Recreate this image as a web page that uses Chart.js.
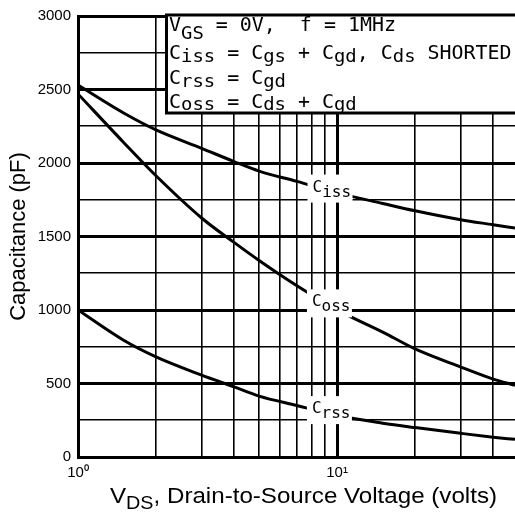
<!DOCTYPE html>
<html>
<head>
<meta charset="utf-8">
<script src="https://cdn.jsdelivr.net/npm/chart.js@4/dist/chart.umd.min.js"></script>
<style>
  html, body { margin: 0; padding: 0; background: #fff; }
</style>
</head>
<body>
<canvas id="capChart" width="515" height="515"></canvas>
<script>
// values
const vds  = [1, 1.5, 2, 3, 4, 5, 7, 10, 15, 20, 30, 40, 48.6];
const ciss = [2530, 2340, 2225, 2100, 2010, 1945, 1875, 1797, 1725, 1675, 1614, 1580, 1557];
const coss = [2470, 2140, 1913, 1626, 1460, 1337, 1165, 1001, 850, 735, 612, 530, 488];
const crss = [1000, 794, 681, 557, 477, 414, 350, 282, 230, 200, 161, 135, 120];

const xTicks = [1, 2, 3, 4, 5, 6, 7, 8, 9, 10, 20, 30, 40];
const yTicks = [0, 250, 500, 750, 1000, 1250, 1500, 1750, 2000, 2250, 2500, 2750, 3000];
const yLabels = ['0', '500', '1000', '1500', '2000', '2500', '3000'];

// where the curve names sit (data coords of label centre)
const curveLabels = [
  { sub: 'iss', x: 9.35, y: 1826 },
  { sub: 'oss', x: 9.3, y: 1045 },
  { sub: 'rss', x: 9.3, y: 319 }
];

const MONO = '"DejaVu Sans Mono", monospace';
const SANS = '"Liberation Sans", Arial, sans-serif';

function toPoints(ys) {
  return vds.map((v, i) => ({ x: v, y: ys[i] }));
}

// draws a run of [text, isSub] pieces, returns end x
function drawRich(ctx, x, y, parts, size, subSize, drop, family) {
  for (const [t, sub] of parts) {
    ctx.font = (sub ? subSize : size) + 'px ' + family;
    ctx.fillText(t, x, y + (sub ? drop : 0));
    x += ctx.measureText(t).width;
  }
  return x;
}

// legend line, stretched a little like the typewriter face in the original
function drawNote(ctx, y, parts, drop) {
  ctx.save();
  ctx.translate(169, 0);
  ctx.scale(1.05, 1);
  drawRich(ctx, 0, y, parts, 19, 18, drop, MONO);
  ctx.restore();
}

const notes = {
  id: 'notes',
  afterDatasetsDraw(chart) {
    const ctx = chart.ctx;
    const xs = chart.scales.x, ys = chart.scales.y;
    ctx.save();
    ctx.textBaseline = 'alphabetic';
    ctx.textAlign = 'left';

    // curve names on white patches
    curveLabels.forEach(l => {
      const cx = xs.getPixelForValue(l.x);
      const cy = ys.getPixelForValue(l.y);
      ctx.fillStyle = '#fff';
      ctx.fillRect(cx - 22, cy - 14, 45, 28);
      ctx.fillStyle = '#000';
      drawRich(ctx, cx - 17, cy + 3, [['C'], [l.sub, 1]], 16, 16, 5, MONO);
    });

    // conditions box
    ctx.fillStyle = '#fff';
    ctx.fillRect(166, 15, 360, 98);
    ctx.strokeStyle = '#000';
    ctx.lineWidth = 3;
    ctx.strokeRect(166.5, 15, 360, 98);
    ctx.fillStyle = '#000';
    drawNote(ctx, 31, [['V'], ['GS', 1], [' = 0V,  f = 1MHz']], 8);
    drawNote(ctx, 58.5, [['C'], ['iss', 1], [' = C'], ['gs', 1], [' + C'], ['gd', 1], [', C'], ['ds', 1], [' SHORTED']], 3);
    drawNote(ctx, 83.5, [['C'], ['rss', 1], [' = C'], ['gd', 1]], 3);
    drawNote(ctx, 108, [['C'], ['oss', 1], [' = C'], ['ds', 1], [' + C'], ['gd', 1]], 2);

    // x axis title with subscript
    const parts = [['V'], ['DS', 1], [', Drain-to-Source Voltage (volts)']];
    let w = 0;
    parts.forEach(([t, sub]) => {
      ctx.font = (sub ? 18 : 22) + 'px ' + SANS;
      w += ctx.measureText(t).width;
    });
    const sx = 387 / w;
    ctx.translate(110, 0);
    ctx.scale(sx, 1);
    drawRich(ctx, 0, 503, parts, 22, 18, 6, SANS);
    ctx.restore();
  }
};

const ctx = document.getElementById('capChart').getContext('2d');
const capChart = new Chart(ctx, {
  type: 'line',
  data: {
    datasets: [
      { label: 'Ciss', data: toPoints(ciss) },
      { label: 'Coss', data: toPoints(coss) },
      { label: 'Crss', data: toPoints(crss) }
    ]
  },
  options: {
    responsive: false,
    animation: false,
    devicePixelRatio: 1,
    layout: { padding: { top: 15, right: 0, left: 0, bottom: 0 } },
    elements: {
      line: { borderColor: '#000', borderWidth: 3, tension: 0.4, cubicInterpolationMode: 'monotone' },
      point: { radius: 0 }
    },
    plugins: { legend: { display: false }, tooltip: { enabled: false } },
    scales: {
      x: {
        type: 'logarithmic',
        min: 1,
        max: 48.6,
        afterFit: s => { s.height = 58; },
        afterBuildTicks: s => { s.ticks = xTicks.map(v => ({ value: v })); },
        ticks: {
          autoSkip: false,
          maxRotation: 0,
          padding: 7,
          color: '#000',
          font: { family: SANS, size: 15 },
          callback: v => (v === 1 ? '10⁰' : v === 10 ? '10¹' : '')
        },
        grid: {
          color: '#000',
          drawTicks: false,
          lineWidth: c => (c.tick && c.tick.value === 10 ? 3 : 1.6)
        },
        border: { color: '#000', width: 3 }
      },
      y: {
        min: 0,
        max: 3000,
        afterFit: s => { s.width = 78; },
        afterBuildTicks: s => { s.ticks = yTicks.map(v => ({ value: v })); },
        ticks: {
          padding: 7,
          color: '#000',
          font: { family: SANS, size: 15 },
          callback: v => (yLabels.includes(String(v)) ? String(v) : '')
        },
        grid: {
          color: '#000',
          drawTicks: false,
          lineWidth: c => (c.tick && c.tick.value % 500 === 0 ? 3 : 1.6)
        },
        border: { color: '#000', width: 3 },
        title: {
          display: true,
          text: 'Capacitance (pF)',
          color: '#000',
          font: { family: SANS, size: 22 },
          padding: { top: 6, bottom: 0 }
        }
      }
    }
  },
  plugins: [notes]
});
</script>
</body>
</html>
